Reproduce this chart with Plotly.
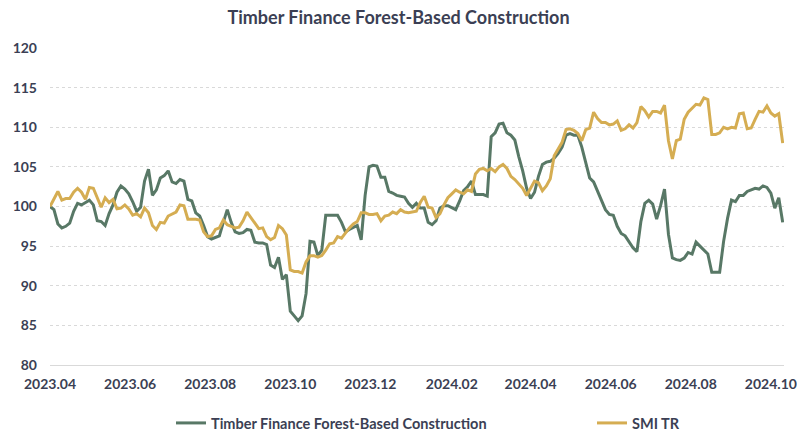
import pandas as pd
import plotly.graph_objects as go

# ---- data (one point every 3 days from 2023-04-01) ----
start_date = "2023-04-01"
step_days = 3

timber = [
    100.0, 99.6, 97.8, 97.3, 97.5, 97.9, 99.4, 100.4, 100.2, 100.5,
    100.8, 100.2, 98.2, 98.1, 97.6, 99.1, 100.2, 101.8, 102.6, 102.2,
    101.6, 100.6, 99.4, 99.9, 103.2, 104.7, 101.4, 102.1, 103.6, 103.9,
    104.5, 103.1, 102.9, 103.4, 103.2, 100.9, 100.7, 99.2, 98.8, 97.6,
    96.2, 95.9, 96.1, 96.3, 98.0, 99.6, 98.0, 96.8, 96.6, 96.7,
    97.1, 97.0, 95.5, 95.4, 95.4, 95.2, 92.6, 92.3, 93.6, 90.8,
    91.4, 86.8, 86.2, 85.6, 86.2, 89.0, 95.6, 95.5, 93.8, 94.5,
    98.9, 98.9, 98.9, 98.9, 98.0, 96.8, 97.1, 97.4, 97.6, 95.8,
    101.4, 105.0, 105.2, 105.1, 103.7, 103.7, 101.9, 101.7, 101.4, 101.3,
    101.2, 100.4, 99.9, 100.4, 99.8, 99.8, 98.0, 97.7, 98.2, 99.8,
    100.1, 100.1, 99.9, 99.6, 100.7, 102.0, 102.5, 103.2, 101.5, 101.5,
    101.5, 101.3, 108.8, 109.3, 110.4, 110.5, 109.3, 109.0, 108.4, 106.3,
    104.5, 102.3, 101.0, 101.8, 103.8, 105.3, 105.6, 105.7, 106.1, 106.7,
    107.5, 109.0, 109.2, 109.0, 109.0, 107.5, 105.5, 103.6, 103.1, 102.0,
    100.9, 99.6, 99.0, 98.9, 97.5, 96.6, 96.3, 95.6, 94.8, 94.3,
    98.1, 100.4, 100.8, 100.3, 98.4, 100.1, 102.2, 96.5, 93.5, 93.3,
    93.2, 93.5, 94.2, 94.0, 95.5, 95.0, 94.5, 94.0, 91.7, 91.7,
    91.7, 95.6, 98.5, 100.8, 100.6, 101.4, 101.4, 101.9, 102.1, 102.3,
    102.2, 102.6, 102.4, 101.7, 99.8, 101.1, 98.0,
]

smi_tr = [
    100.0, 101.0, 101.9, 100.8, 101.0, 101.0, 101.8, 102.3, 101.8, 100.9,
    102.4, 102.3, 101.1, 99.9, 101.1, 100.5, 100.9, 99.7, 99.8, 100.2,
    99.7, 98.9, 99.1, 98.7, 99.8, 99.2, 97.6, 97.1, 98.0, 97.9,
    98.8, 99.1, 99.3, 100.2, 100.1, 98.4, 98.4, 98.4, 98.3, 96.8,
    96.2, 96.3, 97.1, 97.3, 98.3, 97.7, 97.5, 97.3, 97.4, 98.2,
    99.3, 98.6, 97.8, 97.2, 97.3, 96.2, 95.8, 96.1, 97.6, 97.2,
    96.4, 92.0, 91.8, 91.8, 91.6, 93.0, 93.8, 93.8, 93.6, 93.8,
    94.5, 95.3, 95.4, 96.2, 96.0, 96.7, 97.3, 97.8, 98.1, 99.2,
    99.2, 99.0, 99.0, 99.1, 98.2, 98.8, 98.9, 99.3, 99.1, 99.6,
    99.3, 99.2, 99.3, 99.4, 100.5, 101.3, 99.9, 99.8, 98.6, 99.1,
    100.2, 101.1, 101.6, 102.1, 101.8, 101.6, 102.1, 101.9, 104.1, 104.7,
    104.8, 104.5, 104.8, 104.4, 105.0, 105.3, 104.8, 103.8, 103.4, 102.9,
    102.3, 101.4, 102.3, 103.2, 103.0, 102.0, 102.6, 103.5, 106.4, 107.3,
    108.1, 109.7, 109.8, 109.6, 109.2, 108.3, 109.7, 109.9, 111.9, 111.1,
    110.6, 110.6, 110.3, 110.4, 110.8, 109.6, 109.8, 110.3, 109.9, 110.6,
    112.6, 112.1, 111.3, 112.0, 112.0, 111.8, 112.8, 108.3, 106.0, 108.3,
    108.5, 111.0, 111.9, 112.4, 112.9, 112.8, 113.7, 113.5, 109.1, 109.1,
    109.3, 110.0, 109.8, 110.0, 109.9, 111.7, 111.8, 109.8, 109.9, 111.0,
    112.0, 111.9, 112.7, 111.8, 111.4, 111.7, 108.0,
]

tick_dates = ["2023-04-01", "2023-06-01", "2023-08-01", "2023-10-01", "2023-12-01",
              "2024-02-01", "2024-04-01", "2024-06-01", "2024-08-01", "2024-10-01"]
tick_labels = ["2023.04", "2023.06", "2023.08", "2023.10", "2023.12",
               "2024.02", "2024.04", "2024.06", "2024.08", "2024.10"]
y_ticks = [80, 85, 90, 95, 100, 105, 110, 115, 120]

title_text = "Timber Finance Forest-Based Construction"
series_names = ["Timber Finance Forest-Based Construction", "SMI TR"]
series_colors = ["#587866", "#d5ad52"]

dates = pd.date_range(start_date, periods=len(timber), freq=f"{step_days}D")

FONT = "Lato"
TEXT = "#3b3f54"
W, H = 797, 432

fig = go.Figure()
for k, (name, vals, col) in enumerate(zip(series_names, [timber, smi_tr], series_colors)):
    fig.add_trace(go.Scatter(
        x=dates, y=vals, name=name, mode="lines",
        line=dict(color=col, width=3),
        hoverinfo="skip",
        legend="legend" if k == 0 else "legend2",
    ))

legend_common = dict(
    orientation="h", xref="container", yref="container",
    yanchor="middle", xanchor="left", y=1 - 423 / H,
    font=dict(family=FONT, size=14.5, color=TEXT, weight="bold"),
    itemwidth=30, bgcolor="rgba(0,0,0,0)",
)

fig.update_layout(
    width=W, height=H,
    margin=dict(l=50, r=13, t=48, b=67, autoexpand=False),
    paper_bgcolor="white", plot_bgcolor="white",
    title=dict(text=f"<b>{title_text}</b>", x=0.5, xanchor="center",
               xref="container", yref="container",
               y=1 - 18 / H, yanchor="middle",
               font=dict(family=FONT, size=18, color=TEXT)),
    font=dict(family=FONT, color=TEXT),
    showlegend=True,
    legend=dict(legend_common, x=171 / W),
    legend2=dict(legend_common, x=592 / W),
)

fig.update_xaxes(
    type="date",
    range=[dates[0], dates[-1] + pd.Timedelta(days=1)],
    tickvals=tick_dates, ticktext=tick_labels,
    showgrid=False, zeroline=False,
    showline=True, linecolor="#d9d9d9", linewidth=1,
    ticks="", ticklabelstandoff=6, ticklabeloverflow="allow",
    tickfont=dict(family=FONT, size=14, color=TEXT, weight="bold"),
)
fig.update_yaxes(
    range=[80, 120], tickvals=y_ticks,
    showgrid=True, gridcolor="#d9d9d9", griddash="dot", gridwidth=1,
    zeroline=False, showline=False, ticks="", ticklabelstandoff=12,
    tickfont=dict(family=FONT, size=14, color=TEXT, weight="bold"),
)

fig.write_html(
    "out.html",
    config={"displayModeBar": False},
    post_script="document.body.style.margin='0';document.body.style.padding='0';",
)
